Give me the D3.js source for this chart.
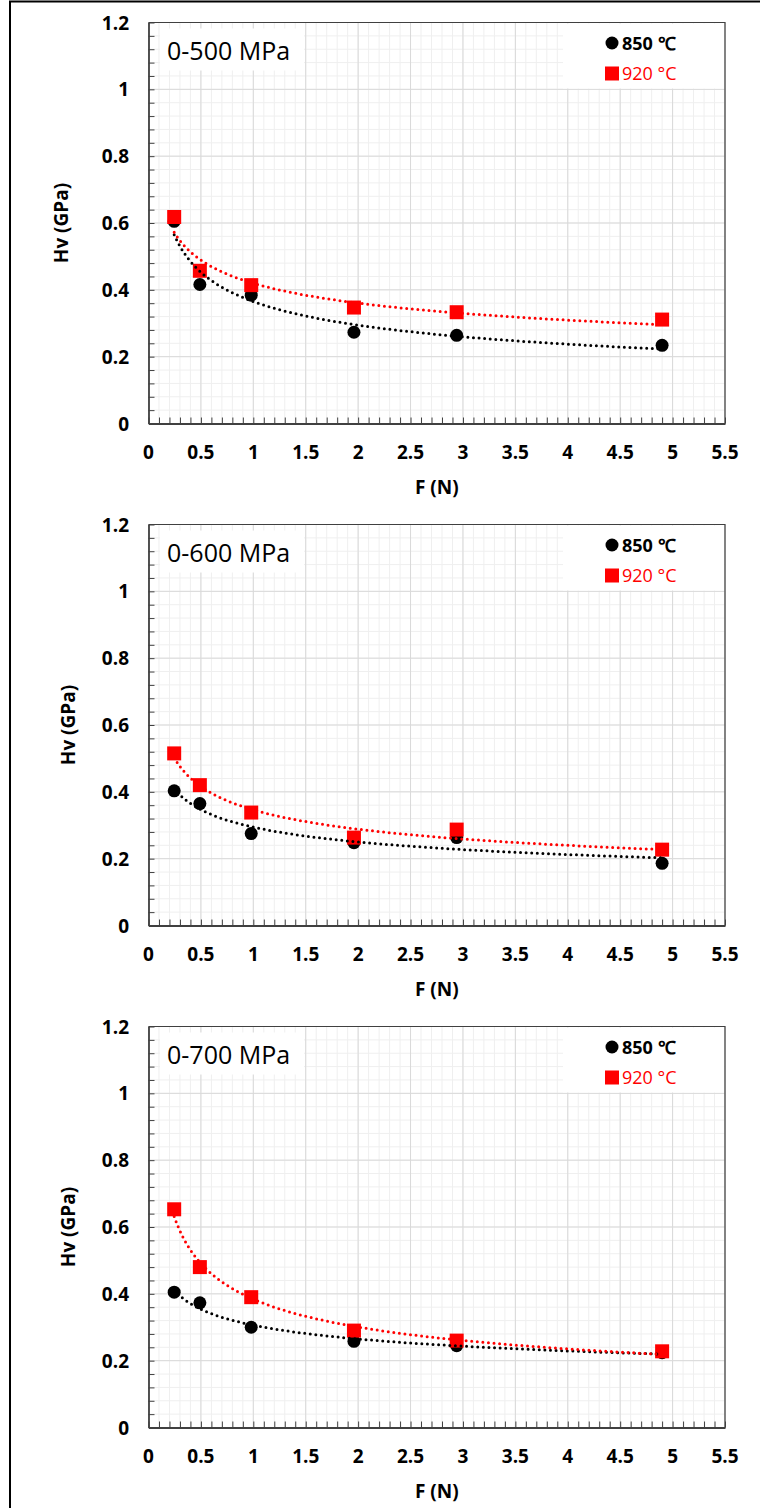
<!DOCTYPE html>
<html>
<head>
<meta charset="utf-8">
<script src="https://cdn.jsdelivr.net/npm/d3@7"></script>
<style>
  html, body { margin: 0; padding: 0; background: #fff; }
  svg { display: block; }
</style>
</head>
<body>
<svg id="chart" width="760" height="1508"></svg>
<script>
// Applied indentation load (N) for every measurement
const forceN = [0.245, 0.49, 0.98, 1.96, 2.94, 4.9];

// Vickers hardness (GPa), one array per pressure range and temperature
const hv850_500 = [0.605, 0.416, 0.384, 0.273, 0.264, 0.234];
const hv920_500 = [0.618, 0.457, 0.414, 0.347, 0.333, 0.311];
const hv850_600 = [0.403, 0.365, 0.275, 0.248, 0.263, 0.186];
const hv920_600 = [0.515, 0.420, 0.338, 0.263, 0.287, 0.227];
const hv850_700 = [0.405, 0.373, 0.300, 0.258, 0.245, 0.224];
const hv920_700 = [0.653, 0.480, 0.390, 0.290, 0.260, 0.228];

const panelTitles = ["0-500 MPa", "0-600 MPa", "0-700 MPa"];
const seriesNames = ["850 ℃", "920 °C"];
const xTickValues = [0, 0.5, 1, 1.5, 2, 2.5, 3, 3.5, 4, 4.5, 5, 5.5];
const yTickValues = [0, 0.2, 0.4, 0.6, 0.8, 1, 1.2];
const xAxisTitle = "F (N)";
const yAxisTitle = "Hv (GPa)";

const panels = [
  { title: panelTitles[0], s850: hv850_500, s920: hv920_500 },
  { title: panelTitles[1], s850: hv850_600, s920: hv920_600 },
  { title: panelTitles[2], s850: hv850_700, s920: hv920_700 }
];

const svg = d3.select("#chart");
const FONT = "'Open Sans', 'Liberation Sans', sans-serif";
const BLACK = "#000000", RED = "#ff0000";

// outer frame
svg.append("rect")
  .attr("x", 10).attr("y", 1.5).attr("width", 820).attr("height", 1600)
  .attr("fill", "none").attr("stroke", "#000").attr("stroke-width", 2);

// layout of the three stacked panels
const plotLeft = 148.5, plotRight = 725, plotH = 401;
const panelTops = [22.5, 524.5, 1026.5];
const yTitleX = [68, 75, 75];

// power-law least-squares fit in log-log space (trendline)
function powerFit(xs, ys) {
  const lx = xs.map(Math.log), ly = ys.map(Math.log);
  const n = xs.length;
  const mx = d3.mean(lx), my = d3.mean(ly);
  let sxy = 0, sxx = 0;
  for (let i = 0; i < n; i++) { sxy += (lx[i] - mx) * (ly[i] - my); sxx += (lx[i] - mx) ** 2; }
  const b = sxy / sxx, a = Math.exp(my - b * mx);
  return x => a * Math.pow(x, b);
}

panels.forEach((p, i) => {
  const top = panelTops[i], bottom = top + plotH;
  const x = d3.scaleLinear().domain([0, 5.5]).range([plotLeft, plotRight]);
  const y = d3.scaleLinear().domain([0, 1.2]).range([bottom, top]);
  const g = svg.append("g");

  // minor grid
  const xMinor = d3.range(0, 55.01, 1).map(v => v / 10);
  const yMinor = d3.range(0, 30.01, 1).map(v => v * 0.04);
  g.append("g").selectAll("line").data(xMinor).join("line")
    .attr("x1", d => x(d)).attr("x2", d => x(d)).attr("y1", top).attr("y2", bottom)
    .attr("stroke", "#efefef").attr("stroke-width", 1);
  g.append("g").selectAll("line").data(yMinor).join("line")
    .attr("y1", d => y(d)).attr("y2", d => y(d)).attr("x1", plotLeft).attr("x2", plotRight)
    .attr("stroke", "#efefef").attr("stroke-width", 1);
  // major grid
  g.append("g").selectAll("line").data(xTickValues).join("line")
    .attr("x1", d => x(d)).attr("x2", d => x(d)).attr("y1", top).attr("y2", bottom)
    .attr("stroke", "#d9d9d9").attr("stroke-width", 1);
  g.append("g").selectAll("line").data(yTickValues).join("line")
    .attr("y1", d => y(d)).attr("y2", d => y(d)).attr("x1", plotLeft).attr("x2", plotRight)
    .attr("stroke", "#d9d9d9").attr("stroke-width", 1);

  // title box
  g.append("rect").attr("x", 160).attr("y", top + 6).attr("width", 144).attr("height", 42).attr("fill", "#fff");
  g.append("text").attr("x", 167).attr("y", top + 37)
    .attr("font-family", FONT).attr("font-size", 25).attr("fill", "#000").text(p.title);

  // legend box
  g.append("rect").attr("x", 563).attr("y", top + 1).attr("width", 161).attr("height", 65).attr("fill", "#fff");
  g.append("circle").attr("cx", 612).attr("cy", top + 20.5).attr("r", 6.5).attr("fill", BLACK);
  g.append("rect").attr("x", 605).attr("y", top + 44).attr("width", 14).attr("height", 14).attr("fill", RED);
  g.append("text").attr("x", 622).attr("y", top + 27)
    .attr("font-family", FONT).attr("font-size", 18).attr("font-weight", "bold").attr("fill", BLACK).text(seriesNames[0]);
  g.append("text").attr("x", 622).attr("y", top + 57.5)
    .attr("font-family", FONT).attr("font-size", 18).attr("fill", RED).text(seriesNames[1]);

  // markers
  const pts850 = forceN.map((f, k) => [f, p.s850[k]]);
  const pts920 = forceN.map((f, k) => [f, p.s920[k]]);
  g.append("g").selectAll("circle").data(pts850).join("circle")
    .attr("cx", d => x(d[0])).attr("cy", d => y(d[1])).attr("r", 6.5).attr("fill", BLACK);
  g.append("g").selectAll("rect").data(pts920).join("rect")
    .attr("x", d => x(d[0]) - 7).attr("y", d => y(d[1]) - 7).attr("width", 14).attr("height", 14).attr("fill", RED);

  // dotted power trendlines
  const line = d3.line().x(d => x(d[0])).y(d => y(d[1]));
  [[p.s850, BLACK], [p.s920, RED]].forEach(([vals, col]) => {
    const fit = powerFit(forceN, vals);
    const xs = d3.range(0, 201).map(k => forceN[0] + (forceN[forceN.length - 1] - forceN[0]) * k / 200);
    g.append("path").datum(xs.map(v => [v, fit(v)]))
      .attr("d", line).attr("fill", "none").attr("stroke", col)
      .attr("stroke-width", 3).attr("stroke-linecap", "round").attr("stroke-dasharray", "0,5.6");
  });

  // plot area border (top/right)
  g.append("path").attr("d", `M${plotLeft},${top}H${plotRight}V${bottom}`)
    .attr("fill", "none").attr("stroke", "#404040").attr("stroke-width", 1.2);

  // axes with inside ticks
  const xAxis = d3.axisBottom(x).tickValues(xMinor).tickSizeInner(-6).tickSizeOuter(0).tickFormat("");
  const yAxis = d3.axisLeft(y).tickValues(yMinor).tickSizeInner(-6).tickSizeOuter(0).tickFormat("");
  const gx = g.append("g").attr("transform", `translate(0,${bottom})`).call(xAxis);
  const gy = g.append("g").attr("transform", `translate(${plotLeft},0)`).call(yAxis);
  [gx, gy].forEach(a => {
    a.select(".domain").attr("stroke", "#404040").attr("stroke-width", 1.8);
    a.selectAll(".tick line").attr("stroke", "#404040").attr("stroke-width", 1);
  });

  // tick labels
  const fmt = d3.format("~g");
  g.append("g").selectAll("text").data(xTickValues).join("text")
    .attr("x", d => x(d)).attr("y", bottom + 35).attr("text-anchor", "middle")
    .attr("font-family", FONT).attr("font-size", 19).attr("font-weight", "bold").attr("fill", "#000")
    .text(d => fmt(d));
  g.append("g").selectAll("text").data(yTickValues).join("text")
    .attr("x", 129).attr("y", d => y(d) + 7).attr("text-anchor", "end")
    .attr("font-family", FONT).attr("font-size", 19).attr("font-weight", "bold").attr("fill", "#000")
    .text(d => fmt(d));

  // axis titles
  g.append("text").attr("x", (plotLeft + plotRight) / 2).attr("y", bottom + 70).attr("text-anchor", "middle")
    .attr("font-family", FONT).attr("font-size", 19).attr("font-weight", "bold").attr("fill", "#000").text(xAxisTitle);
  g.append("text").attr("transform", `translate(${yTitleX[i]},${(top + bottom) / 2}) rotate(-90)`).attr("text-anchor", "middle")
    .attr("font-family", FONT).attr("font-size", 19).attr("font-weight", "bold").attr("fill", "#000").text(yAxisTitle);
});
</script>
</body>
</html>
